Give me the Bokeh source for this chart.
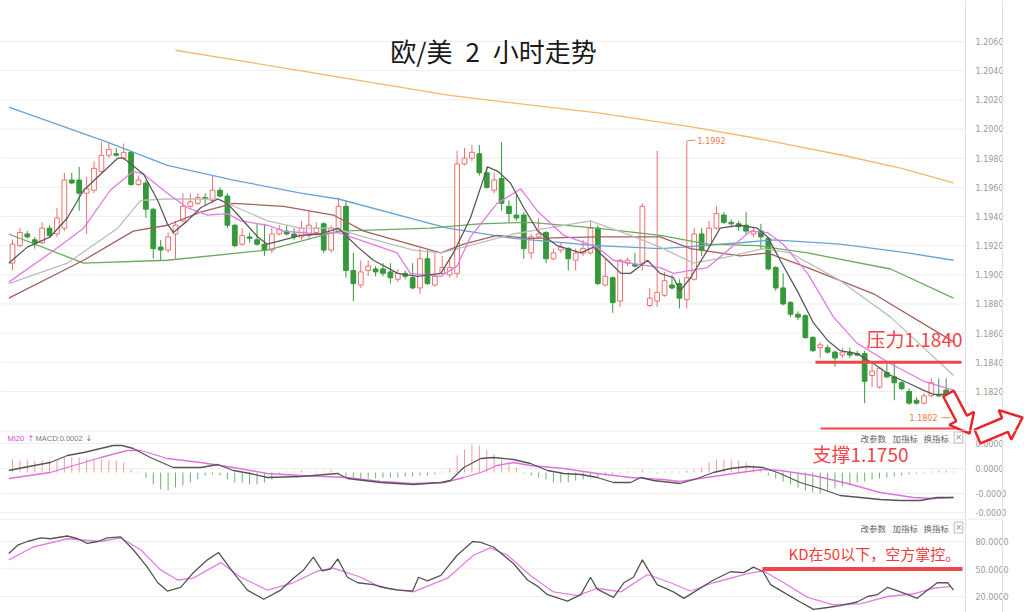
import math
from bokeh.plotting import figure
from bokeh.layouts import column
from bokeh.models import (Range1d, FixedTicker, PrintfTickFormatter, Label, Span,
                          PolyAnnotation, ColumnDataSource, LinearAxis)
from bokeh.embed import file_html
from bokeh.resources import INLINE

# ---------------- data (EUR/USD, 2h candles) ----------------
opens = [1.1908,1.1920,1.1928,1.1924,1.1922,1.1932,1.1928,1.1932,1.1965,1.1965,
1.1956,1.1958,1.1971,1.1982,1.1983,1.1980,1.1984,1.1962,1.1963,1.1945,
1.1919,1.1917,1.1928,1.1937,1.1947,1.1949,1.1953,1.1951,1.1958,1.1954,
1.1934,1.1921,1.1926,1.1924,1.1921,1.1917,1.1928,1.1930,1.1928,1.1926,
1.1927,1.1929,1.1935,1.1917,1.1930,1.1947,1.1903,1.1893,1.1903,1.1904,
1.1904,1.1902,1.1897,1.1901,1.1898,1.1891,1.1911,1.1893,1.1901,1.1900,
1.1901,1.1976,1.1980,1.1983,1.1970,1.1958,1.1966,1.1947,1.1941,1.1941,
1.1915,1.1926,1.1929,1.1911,1.1917,1.1918,1.1910,1.1915,1.1915,1.1932,
1.1893,1.1898,1.1882,1.1908,1.1907,1.1908,1.1879,1.1882,1.1886,1.1893,
1.1894,1.1883,1.1897,1.1928,1.1920,1.1932,1.1941,1.1936,1.1935,1.1934,
1.1928,1.1930,1.1925,1.1905,1.1891,1.1881,1.1873,1.1872,1.1857,1.1850,
1.1850,1.1847,1.1845,1.1847,1.1846,1.1846,1.1831,1.1823,1.1833,1.1830,
1.1826,1.1820,1.1814,1.1812,1.1817,1.1818,1.1821,1.1816]
highs = [1.1924,1.1932,1.1930,1.1926,1.1936,1.1934,1.1946,1.1970,1.1970,1.1974,
1.1967,1.1978,1.1991,1.1991,1.1987,1.1990,1.1985,1.1968,1.1965,1.1946,
1.1924,1.1929,1.1937,1.1956,1.1956,1.1956,1.1956,1.1968,1.1960,1.1956,
1.1935,1.1932,1.1929,1.1935,1.1935,1.1932,1.1934,1.1934,1.1932,1.1937,
1.1944,1.1936,1.1936,1.1934,1.1953,1.1951,1.1915,1.1910,1.1910,1.1906,
1.1908,1.1908,1.1904,1.1903,1.1908,1.1918,1.1917,1.1915,1.1913,1.1912,
1.1985,1.1987,1.1989,1.1989,1.1974,1.1970,1.1991,1.1951,1.1956,1.1943,
1.1928,1.1939,1.1930,1.1918,1.1922,1.1919,1.1918,1.1924,1.1937,1.1934,
1.1911,1.1899,1.1911,1.1912,1.1915,1.1949,1.1891,1.1985,1.1902,1.1900,
1.1897,1.1992,1.1932,1.1932,1.1937,1.1947,1.1943,1.1938,1.1937,1.1943,
1.1933,1.1935,1.1926,1.1906,1.1901,1.1882,1.1875,1.1873,1.1858,1.1854,
1.1852,1.1848,1.1850,1.1850,1.1848,1.1848,1.1841,1.1837,1.1841,1.1840,
1.1827,1.1822,1.1816,1.1819,1.1829,1.1829,1.1829,1.1817]
lows = [1.1903,1.1919,1.1925,1.1918,1.1921,1.1926,1.1926,1.1930,1.1962,1.1944,
1.1928,1.1956,1.1970,1.1980,1.1981,1.1979,1.1961,1.1961,1.1939,1.1911,
1.1910,1.1915,1.1911,1.1936,1.1945,1.1948,1.1948,1.1949,1.1953,1.1932,
1.1919,1.1920,1.1922,1.1920,1.1913,1.1915,1.1927,1.1927,1.1924,1.1924,
1.1924,1.1927,1.1915,1.1915,1.1929,1.1898,1.1882,1.1891,1.1899,1.1899,
1.1899,1.1894,1.1895,1.1897,1.1890,1.1887,1.1893,1.1892,1.1899,1.1898,
1.1898,1.1975,1.1978,1.1968,1.1959,1.1956,1.1944,1.1936,1.1937,1.1911,
1.1911,1.1925,1.1908,1.1910,1.1915,1.1903,1.1903,1.1913,1.1914,1.1893,
1.1892,1.1874,1.1878,1.1906,1.1905,1.1903,1.1878,1.1878,1.1885,1.1890,
1.1877,1.1877,1.1896,1.1913,1.1919,1.1931,1.1935,1.1933,1.1930,1.1928,
1.1926,1.1917,1.1903,1.1889,1.1879,1.1871,1.1869,1.1856,1.1847,1.1843,
1.1846,1.1837,1.1843,1.1843,1.1844,1.1812,1.1823,1.1822,1.1829,1.1814,
1.1821,1.1811,1.1811,1.1811,1.1816,1.1816,1.1816,1.1802]
closes = [1.1921,1.1929,1.1926,1.1922,1.1932,1.1927,1.1939,1.1965,1.1963,1.1956,
1.1959,1.1973,1.1982,1.1986,1.1982,1.1984,1.1962,1.1965,1.1945,1.1918,
1.1917,1.1926,1.1934,1.1947,1.1950,1.1953,1.1952,1.1958,1.1954,1.1934,
1.1920,1.1927,1.1925,1.1921,1.1917,1.1928,1.1931,1.1928,1.1926,1.1932,
1.1934,1.1932,1.1917,1.1932,1.1947,1.1903,1.1894,1.1902,1.1906,1.1902,
1.1901,1.1898,1.1901,1.1899,1.1891,1.1911,1.1894,1.1899,1.1905,1.1905,
1.1976,1.1980,1.1984,1.1970,1.1960,1.1965,1.1949,1.1942,1.1939,1.1918,
1.1926,1.1928,1.1911,1.1915,1.1919,1.1911,1.1915,1.1918,1.1932,1.1894,
1.1899,1.1881,1.1910,1.1910,1.1906,1.1947,1.1884,1.1888,1.1896,1.1891,
1.1884,1.1898,1.1928,1.1917,1.1932,1.1942,1.1936,1.1935,1.1933,1.1930,
1.1930,1.1926,1.1904,1.1891,1.1880,1.1873,1.1871,1.1857,1.1848,1.1852,
1.1847,1.1843,1.1847,1.1845,1.1845,1.1827,1.1834,1.1836,1.1830,1.1826,
1.1822,1.1812,1.1812,1.1817,1.1826,1.1817,1.1817,1.1807]

ma5_x = [-0.5,2.0,5.1,7.4,9.6,11.9,14.2,15.0,17.7,19.6,20.9,21.7,23.6,25.4,27.7,29.0,30.8,33.1,34.4,36.6,
         38.9,41.6,44.0,46.6,48.7,52.0,54.7,57.8,59.5,61.8,64.1,65.5,67.2,69.0,70.9,73.5,76.7,78.4,80.3,82.1,
         83.4,85.7,87.4,89.2,90.1,91.5,93.8,95.5,98.2,100.5,101.9,103.6,105.9,108.1,110.0,111.7,114.0,116.2,
         118.5,120.8,122.9,124.3,127.0]
ma5_y = [1.1908,1.1919,1.1926,1.1939,1.1958,1.1969,1.1980,1.1980,1.1969,1.1951,1.1935,1.1929,1.1937,1.1946,
         1.1952,1.1949,1.1939,1.1926,1.1921,1.1924,1.1927,1.1928,1.1932,1.1919,1.1910,1.1901,1.1899,1.1901,
         1.1915,1.1939,1.1974,1.1971,1.1963,1.1946,1.1930,1.1920,1.1915,1.1919,1.1910,1.1901,1.1901,1.1910,
         1.1901,1.1898,1.1889,1.1898,1.1917,1.1932,1.1934,1.1932,1.1926,1.1910,1.1889,1.1867,1.1855,1.1848,
         1.1846,1.1839,1.1831,1.1826,1.1821,1.1818,1.1818]
ma10_x = [-0.5,5.1,9.6,13.2,16.3,17.7,20.9,23.6,26.3,29.0,30.8,34.4,36.6,41.2,44.0,51.9,53.7,57.8,60.0,61.8,
          65.4,68.6,70.8,74.4,78.9,81.1,83.4,87.4,89.2,93.8,99.6,101.9,104.0,107.3,110.8,114.0,118.5,123.0,127.0]
ma10_y = [1.1895,1.1915,1.1932,1.1958,1.1971,1.1969,1.1956,1.1946,1.1941,1.1942,1.1937,1.1934,1.1930,1.1928,
          1.1929,1.1915,1.1901,1.1899,1.1906,1.1926,1.1949,1.1959,1.1944,1.1927,1.1919,1.1910,1.1908,1.1905,
          1.1901,1.1905,1.1930,1.1929,1.1921,1.1901,1.1871,1.1853,1.1839,1.1827,1.1821]
ma20_x = [-0.5,7.4,14.2,17.3,20.9,27.7,34.4,38.9,43.3,47.4,54.1,57.8,60.9,67.6,72.2,78.0,83.4,87.4,91.9,96.2,
          101.3,105.0,111.7,118.5,127.0]
ma20_y = [1.1894,1.1908,1.1932,1.1951,1.1952,1.1952,1.1937,1.1932,1.1932,1.1926,1.1917,1.1915,1.1919,1.1928,
          1.1932,1.1937,1.1927,1.1919,1.1908,1.1912,1.1918,1.1915,1.1896,1.1871,1.1831]
ma30_x = [-0.5,9.6,16.3,20.9,25.4,29.8,36.6,43.3,47.4,57.8,60.9,65.4,69.9,78.9,87.4,91.5,98.2,101.9,107.3,116.2,127.0]
ma30_y = [1.1884,1.1910,1.1930,1.1934,1.1943,1.1949,1.1947,1.1941,1.1930,1.1915,1.1921,1.1927,1.1925,1.1926,
          1.1926,1.1918,1.1913,1.1915,1.1905,1.1887,1.1854]
ma60_x = [-0.5,9.6,20.9,34.4,44.0,56.4,63.0,69.9,78.9,87.4,93.8,100.5,107.3,118.5,127.0]
ma60_y = [1.1928,1.1908,1.1910,1.1917,1.1930,1.1932,1.1935,1.1936,1.1932,1.1927,1.1921,1.1920,1.1915,1.1904,1.1884]
ma120_x = [-0.5,12.8,20.9,29.8,38.9,44.0,58.7,67.6,78.9,87.4,90.5,98.2,102.7,111.7,120.8,127.0]
ma120_y = [1.2015,1.1991,1.1975,1.1965,1.1956,1.1952,1.1932,1.1925,1.1920,1.1918,1.1919,1.1922,1.1924,1.1921,
           1.1915,1.1910]
ma250_x = [22,40,59,79,91,100,112,120,127]
ma250_y = [1.2054,1.2039,1.2023,1.2011,1.2002,1.1994,1.1982,1.1973,1.1963]

price_ticks = [1.1820,1.1840,1.1860,1.1880,1.1900,1.1920,1.1940,1.1960,1.1980,1.2000,1.2020,1.2040,1.2060]

macd_hist = [0.00065,0.0006,0.00065,0.0006,0.0006,0.0006,0.0006,0.00075,0.00075,0.00075,0.0007,0.0007,
             0.00065,0.0006,0.0006,0.0005,0.00015,0.00005,
             -0.00025,-0.0006,-0.00085,-0.0009,-0.00075,-0.00065,-0.0005,-0.00035,-0.00015,-0.0001,-0.00015,
             -0.00035,-0.0005,-0.0005,-0.0006,-0.0006,-0.0005,-0.00035,-0.00005,
             0.00005,0.00005,0.0001,0.00005,0.00005,0.00005,0.00015,
             -0.00005,-0.0002,-0.00025,-0.0003,-0.0003,-0.0003,-0.00025,-0.00025,-0.00025,-0.0002,-0.0002,
             -0.00015,-0.00015,-0.0001,
             0.00005,0.0002,0.00085,0.00115,0.0014,0.00135,0.00115,0.0009,0.00065,0.0005,0.00025,
             -0.00005,-0.00015,-0.00025,-0.00035,-0.0005,-0.0005,-0.0005,-0.0004,-0.00035,-0.00025,-0.00025,
             -0.00015,-0.0001,-0.00005,
             0.00005,0.00005,0.00015,0.00005,-0.00005,0.00005,0.00005,0.00005,0.0001,0.00015,0.00025,
             0.0005,0.00065,0.00065,0.00065,0.0006,0.0005,0.00035,0.00015,
             -0.00015,-0.0003,-0.00045,-0.0006,-0.00075,-0.0009,-0.001,-0.00105,-0.00095,-0.0008,-0.0007,
             -0.0006,-0.0005,-0.00045,-0.00035,-0.0003,-0.00025,-0.0002,-0.00015,-0.0001,-0.00005,-0.00005,
             0.00005,0.0001,0.0001,0.00005]
dif_x = [-0.5,1.5,5.1,7.4,9.6,11.9,13.6,14.8,16.3,18.6,21.7,25.4,27.7,29.8,32.1,34.4,38.9,43.9,45.2,49.7,
         54.1,57.8,59.1,60.9,63.2,64.9,67.6,69.9,72.2,74.4,76.7,78.9,81.1,83.4,84.8,86.5,90.1,92.4,94.6,96.9,
         99.2,101.3,103.6,106.3,109.0,111.7,114.4,117.1,119.8,122.5,124.8,127.0]
dif_y = [0.0001,0.00025,0.0005,0.00085,0.001,0.0012,0.00135,0.00135,0.0012,0.00075,0.00025,0.00025,0.0004,
         0.0001,-0.00005,-0.00025,-0.0002,-0.00005,-0.0003,-0.0005,-0.0006,-0.0005,-0.0004,0.00025,0.0007,
         0.00075,0.00065,0.00045,0.0001,-0.00005,-0.0001,-0.00025,-0.0005,-0.0005,-0.00025,-0.0004,-0.00055,
         -0.0003,0.0,0.0002,0.0003,0.00025,-0.00005,-0.0005,-0.0008,-0.00115,-0.00125,-0.00135,-0.0014,
         -0.0014,-0.00125,-0.00125]
dea_x = [-0.5,5.1,11.9,15.5,17.3,20.9,25.4,29.8,34.4,38.9,45.2,49.7,54.1,58.3,60.9,63.2,65.4,67.6,69.9,74.4,
         78.9,83.4,87.8,90.1,94.6,99.2,101.3,103.6,108.1,112.7,117.1,121.6,124.3,127.0]
dea_y = [-0.0003,0.0,0.00075,0.0011,0.0011,0.0007,0.0005,0.00025,-0.00005,-0.00015,-0.00025,-0.00045,-0.00055,
         -0.0005,-0.00025,0.0,0.00035,0.0005,0.00035,0.0002,-0.00005,-0.00025,-0.00035,-0.00045,-0.0002,
         0.00005,0.00015,0.0001,-0.00015,-0.00055,-0.001,-0.00125,-0.0013,-0.00125]
macd_ticks = [0.00145, 0.0002, -0.00105, -0.002]
macd_tick_labels = ["0.0000", "0.0000", "-0.0000", "-0.0000"]

k_x = [-0.5,0.7,2.0,3.8,5.1,7.4,8.8,10.1,11.5,12.8,14.6,16.3,18.2,19.6,20.9,22.7,24.4,26.3,27.8,29.8,
       31.7,33.9,36.2,37.9,39.3,40.6,41.8,42.9,43.9,45.2,46.6,48.7,50.6,52.0,54.0,54.8,56.0,57.8,60.0,62.1,
       63.2,64.9,67.6,69.5,70.9,72.2,74.9,76.7,78.0,78.9,81.1,82.5,83.8,85.0,87.0,89.2,90.6,92.4,94.6,96.9,
       98.7,100.0,101.3,102.3,104.6,106.3,108.1,110.0,111.7,114.0,115.4,116.7,118.1,120.2,122.1,123.5,124.8,
       126.2,127.0]
k_y = [67,76,80,84,83,86,83,78,80,84,85,71,52,35,26,30,46,60,68,46,27,17,27,40,49,63,48,50,61,41,35,33,29,27,
       26,41,37,43,65,80,79,74,56,38,31,22,15,22,41,28,19,35,41,60,33,25,18,27,38,47,46,52,47,33,22,14,6,8,10,
       14,20,22,30,24,18,27,35,35,27]
d_x = [-0.5,2.8,7.4,11.9,14.6,17.3,20.0,22.3,24.4,28.1,30.8,34.4,37.9,41.2,43.3,47.0,49.7,54.1,58.7,62.2,
       64.5,66.8,69.9,73.0,76.3,78.9,82.1,85.7,88.8,91.5,94.6,99.2,101.3,104.1,107.3,110.8,114.4,118.1,121.6,
       124.3,126.6]
d_y = [60,74,83,80,84,71,49,38,40,57,41,27,35,48,51,41,30,25,40,65,73,65,43,25,21,29,25,44,35,26,35,45,48,35,
       19,11,12,20,23,29,31]
kd_ticks = [20, 50, 80]

pressure_level = 1.1840
pressure_text = "压力1.1840"
support_text = "支撑1.1750"
kd_text = "KD在50以下，空方掌控。"
kd_level = 50
title_text = "欧/美\u20022\u2002小时走势"

# ---------------- styling / layout ----------------
RED = "#ef6f6f"
GREEN = "#35993b"
ANN_RED = "#f0454b"
ARROW_RED = "#e8262b"
CJK = "Noto Sans CJK SC"
W = 1024

# pixel -> data helpers (annotation placement only)
def X(px):
    return (px - 12) / 7.41
def PY(py):
    return 1.2060 - (py - 41) / 14583.3
def MY(py):
    return (472 - py) * 0.00005
def KY(py):
    return 80 - (py - 541) / 0.9167

XR = (X(0), X(W))
AXIS_AT = X(965)


def make_fig(h, y0, y1, ticks, conv, top_px, fmt=None, overrides=None):
    p = figure(width=W, height=h, x_range=Range1d(*XR), y_range=Range1d(y0, y1),
               output_backend="svg", toolbar_location=None, x_axis_location=None,
               y_axis_location=None, min_border_left=0, min_border_right=0,
               min_border_top=0, min_border_bottom=0)
    p.outline_line_color = None
    p.xgrid.visible = False
    p.ygrid.visible = False
    # grid lines, stopping at the price-axis line
    p.segment(x0=[X(0)] * len(ticks), y0=ticks, x1=[AXIS_AT] * len(ticks), y1=ticks,
              line_color="#eeeeee", line_width=1)
    ax = LinearAxis(ticker=FixedTicker(ticks=ticks), fixed_location=AXIS_AT)
    if fmt:
        ax.formatter = PrintfTickFormatter(format=fmt)
    if overrides:
        ax.major_label_overrides = overrides
    ax.axis_line_color = "#e0e0e0"
    ax.major_tick_line_color = None
    ax.minor_tick_line_color = None
    ax.major_tick_out = 0
    ax.major_tick_in = 0
    ax.major_label_text_color = "#9a9a9a"
    ax.major_label_text_font_size = "8px"
    ax.major_label_text_font = "DejaVu Sans"
    ax.major_label_standoff = 10
    p.add_layout(ax, "right")
    p.add_layout(Span(location=X(1002), dimension="height", line_color="#e0e0e0", line_width=1))
    if top_px is not None:
        p.segment(x0=[X(0)], y0=[conv(top_px)], x1=[X(1002)], y1=[conv(top_px)],
                  line_color="#e4e4e4", line_width=1)
    return p


def arrow_pts(tail, tip, w, h, hl):
    tx, ty = tail
    dx, dy = tip[0] - tx, tip[1] - ty
    L = math.hypot(dx, dy)
    ux, uy = dx / L, dy / L
    nx, ny = -uy, ux
    local = [(0, -w), (L - hl, -w), (L - hl, -h), (L, 0), (L - hl, h), (L - hl, w), (0, w)]
    return [(tx + a * ux + b * nx, ty + a * uy + b * ny) for a, b in local]

arrow1 = arrow_pts((948, 393), (969, 433), 6, 14, 17)
arrow2 = arrow_pts((977, 436), (1022, 417), 7.5, 16, 19)


def add_arrows(fig, conv):
    for arr in (arrow1, arrow2):
        fig.add_layout(PolyAnnotation(xs=[X(a) for a, b in arr], ys=[conv(b) for a, b in arr],
                                      fill_color="white", fill_alpha=1, line_color=ARROW_RED,
                                      line_alpha=1, line_width=2.5, level="overlay"))

# ---------------- main price panel ----------------
p = make_fig(430, PY(430), PY(0), price_ticks, PY, None, fmt="%.4f")

n = len(opens)
up = [i for i in range(n) if closes[i] >= opens[i]]
dn = [i for i in range(n) if closes[i] < opens[i]]
src_up = ColumnDataSource(dict(x=up, hi=[highs[i] for i in up], lo=[lows[i] for i in up],
                               top=[closes[i] for i in up], bot=[opens[i] for i in up]))
src_dn = ColumnDataSource(dict(x=dn, hi=[highs[i] for i in dn], lo=[lows[i] for i in dn],
                               top=[opens[i] for i in dn], bot=[closes[i] for i in dn]))
p.segment(x0="x", y0="lo", x1="x", y1="hi", source=src_up, line_color=RED, line_width=1)
p.vbar(x="x", width=0.64, top="top", bottom="bot", source=src_up, fill_color="white",
       line_color=RED, line_width=1)
p.segment(x0="x", y0="lo", x1="x", y1="hi", source=src_dn, line_color=GREEN, line_width=1)
p.vbar(x="x", width=0.64, top="top", bottom="bot", source=src_dn, fill_color=GREEN,
       line_color=GREEN, line_width=1)

for xs, ys, col in [(ma250_x, ma250_y, "#f6b866"), (ma120_x, ma120_y, "#66a3d9"),
                    (ma60_x, ma60_y, "#6aab5e"), (ma30_x, ma30_y, "#a4605c"),
                    (ma20_x, ma20_y, "#bdbdbd"), (ma10_x, ma10_y, "#e579e5"),
                    (ma5_x, ma5_y, "#5a5a5a")]:
    p.line(xs, ys, line_color=col, line_width=1.3)

# max / min markers
imax = highs.index(max(highs))
imin = lows.index(min(lows))
p.segment(x0=[imax + 0.1], y0=[highs[imax]], x1=[X(695)], y1=[highs[imax] + 0.00004],
          line_color="#ee8a55", line_width=1)
p.add_layout(Label(x=X(697), y=highs[imax], text=f"{highs[imax]:.4f}", text_font="DejaVu Sans",
                   text_font_size="8px", text_color="#ee7a44", text_baseline="middle"))
p.add_layout(Label(x=X(937), y=lows[imin], text=f"{lows[imin]:.4f}", text_font="DejaVu Sans",
                   text_font_size="8px", text_color="#ee7a44", text_baseline="middle",
                   text_align="right"))
p.segment(x0=[X(941)], y0=[lows[imin]], x1=[imin - 0.45], y1=[lows[imin]],
          line_color="#ee8a55", line_width=1)

# annotations
p.add_layout(Label(x=X(493), y=PY(50), text=title_text, text_font=CJK, text_font_size="26px",
                   text_color="#1a1a1a", text_align="center", text_baseline="middle"))
p.segment(x0=[X(815)], y0=[pressure_level], x1=[X(961)], y1=[pressure_level],
          line_color=ANN_RED, line_width=3)
p.add_layout(Label(x=X(866), y=PY(338), text=pressure_text, text_font=CJK, text_font_size="19px",
                   text_color=ANN_RED, text_baseline="middle"))
p.segment(x0=[X(820)], y0=[PY(428)], x1=[X(961)], y1=[PY(428)], line_color=ANN_RED, line_width=2)
add_arrows(p, PY)

# ---------------- MACD panel ----------------
m = make_fig(88, MY(518), MY(430), macd_ticks, MY, 430.5,
             overrides={t: s for t, s in zip(macd_ticks, macd_tick_labels)})
hx = list(range(len(macd_hist)))
hcol = ["#f29a9a" if v > 0 else "#6db36d" for v in macd_hist]
m.segment(x0=hx, y0=[0] * len(hx), x1=hx, y1=macd_hist, line_color=hcol, line_width=1)
m.line(dea_x, dea_y, line_color="#e070e0", line_width=1.3)
m.line(dif_x, dif_y, line_color="#555555", line_width=1.3)

m.add_layout(Label(x=X(7), y=MY(438), text="MI20", text_font="Liberation Sans", text_font_size="7.5px",
                   text_color="#e040e0", text_baseline="middle"))
m.add_layout(Label(x=X(27), y=MY(438), text="↑", text_font="DejaVu Sans", text_font_size="8px",
                   text_color="#e040e0", text_baseline="middle"))
m.add_layout(Label(x=X(35), y=MY(438), text="MACD:0.0002", text_font="Liberation Sans",
                   text_font_size="7.5px", text_color="#777777", text_baseline="middle"))
m.add_layout(Label(x=X(85), y=MY(438), text="↓", text_font="DejaVu Sans", text_font_size="8px",
                   text_color="#777777", text_baseline="middle"))
m.add_layout(Label(x=X(812), y=MY(453), text=support_text, text_font=CJK, text_font_size="19px",
                   text_color=ANN_RED, text_baseline="middle"))
add_arrows(m, MY)

# ---------------- KD panel ----------------
k = make_fig(94, KY(612), KY(518), kd_ticks, KY, 518.5, fmt="%.4f")
k.line(d_x, d_y, line_color="#e57ee5", line_width=1.3)
k.line(k_x, k_y, line_color="#555555", line_width=1.3)
k.segment(x0=[X(762)], y0=[kd_level], x1=[X(962)], y1=[kd_level], line_color=ANN_RED, line_width=4)
k.add_layout(Label(x=X(788), y=KY(553), text=kd_text, text_font=CJK, text_font_size="15px",
                   text_color="#f03a3a", text_baseline="middle"))

# panel header buttons
for fig, conv, ypx in ((m, MY, 437), (k, KY, 527)):
    for txt, px in (("改参数", 860), ("加指标", 892), ("换指标", 923)):
        fig.add_layout(Label(x=X(px), y=conv(ypx), text=txt, text_font=CJK, text_font_size="8.5px",
                             text_color="#666666", text_baseline="middle"))
    fig.add_layout(Label(x=X(958), y=conv(ypx), text="×", text_font="DejaVu Sans",
                         text_font_size="8px", text_color="#888888", text_baseline="middle",
                         text_align="center", border_line_color="#bbbbbb",
                         background_fill_color="white", padding=1))

layout = column(p, m, k, spacing=0)
open("out.html", "w").write(file_html(layout, INLINE))
